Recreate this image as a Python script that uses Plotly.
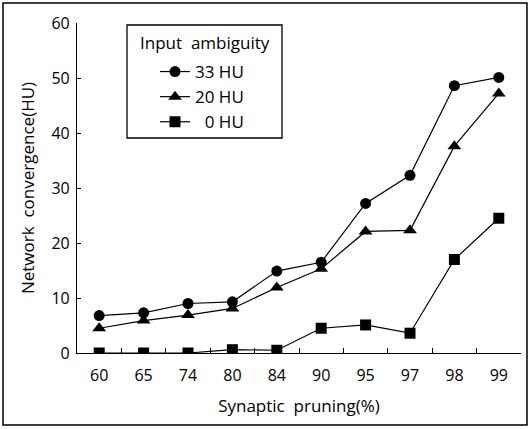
import plotly.graph_objects as go

categories = ["60", "65", "74", "80", "84", "90", "95", "97", "98", "99"]
hu33 = [6.8, 7.3, 9.0, 9.3, 14.9, 16.5, 27.2, 32.3, 48.6, 50.1]
hu20 = [4.5, 5.9, 6.9, 8.1, 11.9, 15.3, 22.1, 22.3, 37.6, 47.2]
hu0 = [0.0, 0.0, 0.0, 0.6, 0.5, 4.5, 5.1, 3.6, 17.0, 24.5]
series_names = ["33 HU", "20 HU", "\u20070 HU"]
symbols = ["circle", "triangle-up", "square"]
legend_title = "Input  ambiguity"

FONT = "Open Sans"
L, R, T, B = 77, 9, 23, 76
W, H = 530, 429
pw, ph = W - L - R, H - T - B


def px_x(p):
    return (p - L) / pw


def px_y(p):
    return (H - B - p) / ph


fig = go.Figure()
for name, vals, sym in zip(series_names, [hu33, hu20, hu0], symbols):
    fig.add_trace(go.Scatter(
        x=categories, y=vals, name=name, mode="lines+markers",
        line=dict(color="black", width=1.2),
        marker=dict(symbol=sym, size=11 if sym != "triangle-up" else 12, color="black"),
    ))

fig.update_layout(
    width=W, height=H,
    margin=dict(l=L, r=R, t=T, b=B),
    paper_bgcolor="white", plot_bgcolor="white",
    font=dict(family=FONT, size=16, color="black"),
    showlegend=True,
    legend=dict(
        x=px_x(155), y=px_y(54), xanchor="left", yanchor="top",
        borderwidth=0, bgcolor="rgba(0,0,0,0)",
        font=dict(size=17), tracegroupgap=0,
    ),
    xaxis=dict(
        type="category", range=[-0.5, 9.5], tickson="boundaries",
        showline=True, linecolor="black", linewidth=1.2,
        ticks="inside", ticklen=5, tickcolor="black",
        showgrid=False, zeroline=False, ticklabelstandoff=8,
        title=dict(text="Synaptic  pruning(%)", standoff=14, font=dict(size=17)),
        tickfont=dict(size=16),
    ),
    yaxis=dict(
        range=[0, 60], tickvals=[0, 10, 20, 30, 40, 50, 60],
        showline=True, linecolor="black", linewidth=1.2,
        ticks="inside", ticklen=4, tickcolor="black",
        showgrid=False, zeroline=False, ticklabelstandoff=3,
        title=dict(text="Network  convergence(HU)", standoff=12, font=dict(size=17)),
        tickfont=dict(size=16),
    ),
)

# legend box and title
fig.add_shape(type="rect", xref="paper", yref="paper",
              x0=px_x(127), x1=px_x(282), y0=px_y(138), y1=px_y(25),
              line=dict(color="black", width=1.3), fillcolor="rgba(0,0,0,0)", layer="above")
fig.add_annotation(text=legend_title, xref="paper", yref="paper",
                   x=px_x(205), y=px_y(43), showarrow=False,
                   xanchor="center", yanchor="middle", font=dict(size=17))

# outer frame
fig.add_shape(type="rect", xref="paper", yref="paper",
              x0=px_x(3), x1=px_x(527), y0=px_y(425), y1=px_y(3),
              line=dict(color="black", width=1.5), layer="above")

fig.write_html("out.html", config={"displayModeBar": False},
               post_script="document.body.style.margin='0';document.body.style.overflow='hidden';")
